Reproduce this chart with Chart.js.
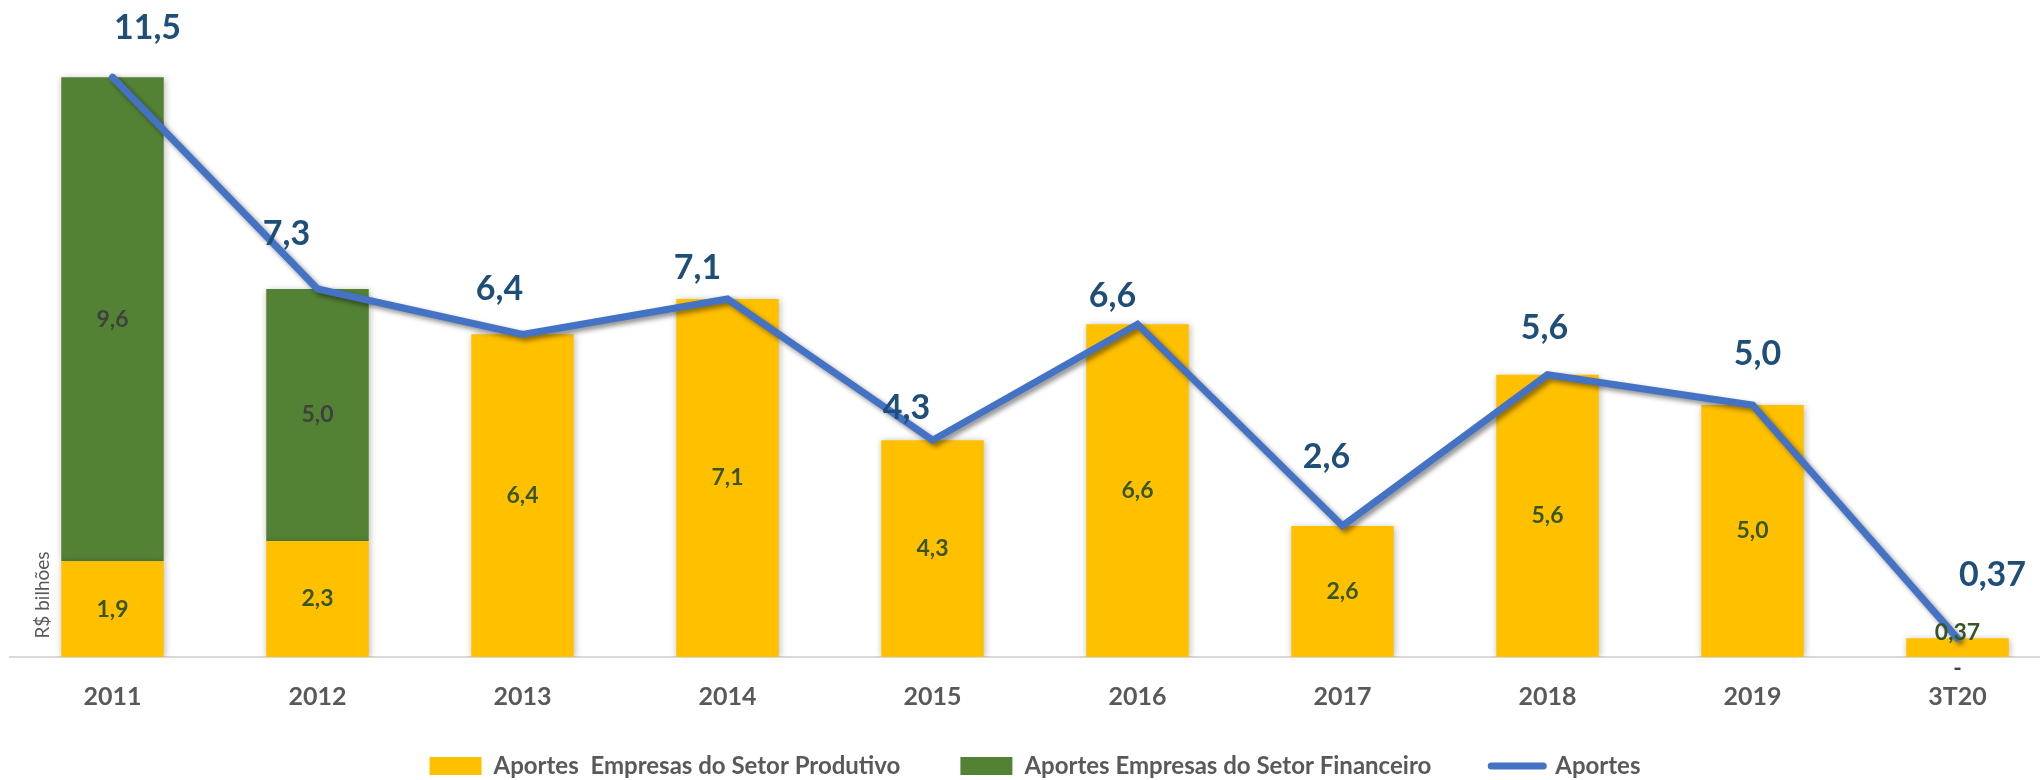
<!DOCTYPE html>
<html>
<head>
<meta charset="utf-8">
<title>Aportes</title>
<script src="https://cdn.jsdelivr.net/npm/chart.js@4.4.1/dist/chart.umd.min.js"></script>
<style>
  html, body { margin: 0; padding: 0; overflow: hidden; background: #fff; }
  canvas { display: block; }
</style>
</head>
<body>
<canvas id="Chart_0" width="2060" height="780"></canvas>
<script>
"use strict";

// dados (R$ bilhões)
const categorias = ['2011', '2012', '2013', '2014', '2015', '2016', '2017', '2018', '2019', '3T20'];
const setorProdutivo = [1.9, 2.3, 6.4, 7.1, 4.3, 6.6, 2.6, 5.6, 5.0, 0.37];
const setorFinanceiro = [9.6, 5.0, null, null, null, null, null, null, null, 0];
const aportes = [11.5, 7.3, 6.4, 7.1, 4.3, 6.6, 2.6, 5.6, 5.0, 0.37];
const legendas = ['Aportes  Empresas do Setor Produtivo', 'Aportes Empresas do Setor Financeiro', 'Aportes'];

const FONTE = 'Lato, "Open Sans", sans-serif';

function fmt(v) {
  if (v === 0) return '-';
  return (v < 1 ? v.toFixed(2) : v.toFixed(1)).replace('.', ',');
}

// sombra tipo Excel
const sombra = {
  id: 'sombra',
  beforeDatasetDraw(chart, args) {
    const ctx = chart.ctx;
    ctx.save();
    if (args.meta.type === 'line') {
      ctx.shadowColor = 'rgba(0,0,0,0.45)';
      ctx.shadowBlur = 5;
      ctx.shadowOffsetX = 3;
      ctx.shadowOffsetY = 3;
    } else {
      ctx.shadowColor = 'rgba(0,0,0,0.28)';
      ctx.shadowBlur = 7;
      ctx.shadowOffsetX = 1;
      ctx.shadowOffsetY = 1;
    }
  },
  afterDatasetDraw(chart) { chart.ctx.restore(); }
};

// rótulos de dados
const rotulos = {
  id: 'rotulos',
  afterDatasetsDraw(chart) {
    const ctx = chart.ctx;
    const zero = chart.scales.y.getPixelForValue(0);
    ctx.save();
    ctx.textAlign = 'center';
    ctx.textBaseline = 'middle';

    // barras
    [0, 1].forEach(di => {
      const meta = chart.getDatasetMeta(di);
      const vals = chart.data.datasets[di].data;
      ctx.font = 'bold 23px ' + FONTE;
      ctx.fillStyle = di === 0 ? '#375623' : '#404040';
      meta.data.forEach((bar, i) => {
        const v = vals[i];
        if (v === null || v === undefined) return;
        if (v === 0) { ctx.fillText('-', bar.x, zero + 12); return; }
        const h = Math.abs(bar.base - bar.y);
        const y = h < 30 ? bar.y - 6 : (bar.y + bar.base) / 2;
        ctx.fillText(fmt(v), bar.x, y);
      });
    });

    // linha
    const desloc = [[35, -49], [-31, -55], [-23, -45], [-30, -31], [-26, -32],
                    [-25, -28], [-16, -69], [-3, -47], [5, -51], [35, -63]];
    const metaL = chart.getDatasetMeta(2);
    ctx.font = 'bold 34px ' + FONTE;
    ctx.fillStyle = '#1F4E79';
    metaL.data.forEach((pt, i) => {
      ctx.fillText(fmt(aportes[i]), pt.x + desloc[i][0], pt.y + desloc[i][1]);
    });

    // título do eixo
    ctx.translate(43, 595);
    ctx.rotate(-Math.PI / 2);
    ctx.font = '19px ' + FONTE;
    ctx.fillStyle = '#595959';
    ctx.fillText('R$ bilhões', 0, 0);
    ctx.restore();
  }
};

const ctx = document.getElementById('Chart_0');
Chart.defaults.font.family = FONTE;
Chart.defaults.color = '#595959';

new Chart(ctx, {
  type: 'bar',
  data: {
    labels: categorias,
    datasets: [
      {
        label: legendas[0],
        data: setorProdutivo,
        backgroundColor: '#FFC000',
        stack: 'a',
        order: 1,
        barPercentage: 0.5,
        categoryPercentage: 1
      },
      {
        label: legendas[1],
        data: setorFinanceiro,
        backgroundColor: '#548235',
        stack: 'a',
        order: 1,
        barPercentage: 0.5,
        categoryPercentage: 1
      },
      {
        type: 'line',
        label: legendas[2],
        data: aportes,
        borderColor: '#4472C4',
        backgroundColor: '#4472C4',
        borderWidth: 7,
        borderCapStyle: 'round',
        pointRadius: 0,
        tension: 0,
        stack: 'linha',
        order: 0
      }
    ]
  },
  options: {
    responsive: false,
    devicePixelRatio: 1,
    animation: false,
    layout: { padding: { top: 52, left: 10, right: 0, bottom: -8 } },
    plugins: {
      tooltip: { enabled: false },
      legend: {
        position: 'bottom',
        labels: {
          usePointStyle: true,
          pointStyleWidth: 52,
          boxHeight: 18,
          padding: 48,
          color: '#595959',
          font: { size: 24, weight: 'bold' },
          sort: (a, b) => a.datasetIndex - b.datasetIndex,
          generateLabels(chart) {
            const itens = Chart.defaults.plugins.legend.labels.generateLabels(chart);
            itens.forEach(it => {
              if (it.datasetIndex === 2) {
                it.pointStyle = 'line';
                it.lineWidth = 7;
                it.lineCap = 'round';
              } else {
                it.pointStyle = 'rect';
                it.lineWidth = 0;
                it.text += '\u2002';
              }
            });
            return itens;
          }
        }
      }
    },
    scales: {
      x: {
        stacked: true,
        grid: { display: false, drawTicks: false },
        border: { display: true, color: '#D9D9D9', width: 2 },
        ticks: { padding: 27, color: '#595959', font: { size: 25, weight: 'bold', lineHeight: 1 } },
        afterFit(scale) { scale.height = 49; }
      },
      y: {
        stacked: true,
        display: false,
        min: 0,
        max: 12
      }
    }
  },
  plugins: [sombra, rotulos]
});
</script>
</body>
</html>
